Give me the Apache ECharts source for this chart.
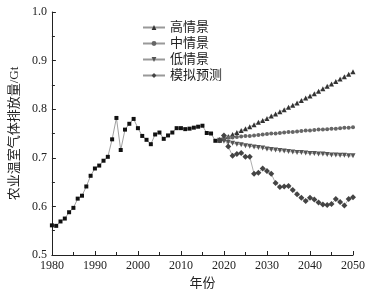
<!DOCTYPE html>
<html>
<head>
<meta charset="utf-8">
<script src="https://cdn.jsdelivr.net/npm/echarts@6/dist/echarts.min.js"></script>
<style>
  html, body { margin: 0; padding: 0; background: #fff; }
  #chart { width: 369px; height: 297px; }
</style>
</head>
<body>
<div id="chart"></div>
<script>
// 历史数据 1980-2019
var histYears = [];
for (var y = 1980; y <= 2019; y++) histYears.push(y);
var histValues = [0.561, 0.560, 0.569, 0.575, 0.588, 0.597, 0.616, 0.622, 0.641, 0.663,
  0.678, 0.684, 0.694, 0.702, 0.738, 0.782, 0.716, 0.758, 0.770, 0.780,
  0.761, 0.745, 0.737, 0.728, 0.748, 0.752, 0.739, 0.746, 0.752, 0.761,
  0.761, 0.759, 0.760, 0.762, 0.764, 0.766, 0.751, 0.750, 0.735, 0.736];

// 情景 2019-2050
var scenYears = [];
for (var y2 = 2019; y2 <= 2050; y2++) scenYears.push(y2);
var highValues = [0.736, 0.740, 0.744, 0.748, 0.752, 0.756, 0.760, 0.764, 0.768, 0.773,
  0.777, 0.781, 0.786, 0.790, 0.795, 0.799, 0.804, 0.808, 0.813, 0.818,
  0.823, 0.827, 0.832, 0.837, 0.842, 0.847, 0.852, 0.857, 0.862, 0.867,
  0.872, 0.877];
var midValues = [0.737, 0.740, 0.741, 0.742, 0.743, 0.744, 0.745, 0.745, 0.746, 0.747,
  0.748, 0.749, 0.750, 0.750, 0.751, 0.752, 0.753, 0.753, 0.754, 0.755,
  0.756, 0.756, 0.757, 0.758, 0.758, 0.759, 0.760, 0.760, 0.761, 0.762,
  0.762, 0.763];
var lowValues = [0.736, 0.734, 0.732, 0.730, 0.728, 0.727, 0.725, 0.724, 0.722, 0.721,
  0.720, 0.718, 0.717, 0.716, 0.715, 0.714, 0.713, 0.712, 0.711, 0.711,
  0.710, 0.709, 0.709, 0.708, 0.708, 0.707, 0.706, 0.706, 0.705, 0.705,
  0.704, 0.704];
var simValues = [0.736, 0.746, 0.723, 0.704, 0.708, 0.710, 0.702, 0.702, 0.667, 0.669,
  0.678, 0.673, 0.667, 0.648, 0.640, 0.641, 0.642, 0.634, 0.625, 0.618,
  0.611, 0.618, 0.614, 0.608, 0.604, 0.603, 0.605, 0.615, 0.609, 0.602,
  0.615, 0.619];

var legendNames = ['高情景', '中情景', '低情景', '模拟预测'];

function pairs(xs, vs) {
  return xs.map(function (x, i) { return [x, vs[i]]; });
}

var myChart = echarts.init(document.getElementById('chart'));
var serif = '"Liberation Serif", "DejaVu Serif", "Noto Sans CJK SC", serif';

var option = {
  animation: false,
  backgroundColor: '#fff',
  legend: {
    orient: 'vertical',
    left: 137,
    top: 16,
    itemGap: 3,
    itemWidth: 22,
    itemHeight: 6,
    textStyle: { fontFamily: serif, fontSize: 13, color: '#222' },
    data: legendNames
  },
  grid: {
    left: 49,
    right: 16,
    top: 12,
    bottom: 42
  },
  xAxis: {
    type: 'value',
    min: 1980,
    max: 2050,
    interval: 10,
    name: '年份',
    nameLocation: 'middle',
    nameGap: 21,
    nameTextStyle: { fontFamily: serif, fontSize: 13, color: '#222' },
    axisLine: { lineStyle: { color: '#222', width: 1 } },
    axisTick: { inside: true, length: 4, lineStyle: { color: '#222' } },
    minorTick: { show: true, splitNumber: 2, length: 3, lineStyle: { color: '#222' } },
    axisLabel: {
      fontFamily: serif, fontSize: 12, color: '#222', margin: 5,
      formatter: function (v) { return String(v); }
    },
    splitLine: { show: false }
  },
  yAxis: {
    type: 'value',
    min: 0.5,
    max: 1.0,
    interval: 0.1,
    name: '农业温室气体排放量/Gt',
    nameLocation: 'middle',
    nameGap: 30,
    nameTextStyle: { fontFamily: serif, fontSize: 13, color: '#222' },
    axisLine: { show: true, lineStyle: { color: '#222', width: 1 } },
    axisTick: { inside: true, length: 4, lineStyle: { color: '#222' } },
    minorTick: { show: true, splitNumber: 2, length: 3, lineStyle: { color: '#222' } },
    axisLabel: {
      fontFamily: serif, fontSize: 12, color: '#222', margin: 5,
      formatter: function (v) { return v.toFixed(1); }
    },
    splitLine: { show: false }
  },
  series: [
    {
      name: '历史',
      type: 'line',
      data: pairs(histYears, histValues),
      symbol: 'rect',
      symbolSize: 4,
      itemStyle: { color: '#111' },
      lineStyle: { color: '#888', width: 0.8 }
    },
    {
      name: '高情景',
      type: 'line',
      data: pairs(scenYears, highValues),
      symbol: 'triangle',
      symbolSize: 5,
      itemStyle: { color: '#333' },
      lineStyle: { color: '#999', width: 0.8 }
    },
    {
      name: '中情景',
      type: 'line',
      data: pairs(scenYears, midValues),
      symbol: 'circle',
      symbolSize: 4,
      itemStyle: { color: '#666' },
      lineStyle: { color: '#999', width: 0.8 }
    },
    {
      name: '低情景',
      type: 'line',
      data: pairs(scenYears, lowValues),
      symbol: 'triangle',
      symbolRotate: 180,
      symbolSize: 5,
      itemStyle: { color: '#555' },
      lineStyle: { color: '#999', width: 0.8 }
    },
    {
      name: '模拟预测',
      type: 'line',
      data: pairs(scenYears, simValues),
      symbol: 'diamond',
      symbolSize: 6,
      itemStyle: { color: '#444' },
      lineStyle: { color: '#999', width: 0.8 }
    }
  ]
};

myChart.setOption(option);
</script>
</body>
</html>
